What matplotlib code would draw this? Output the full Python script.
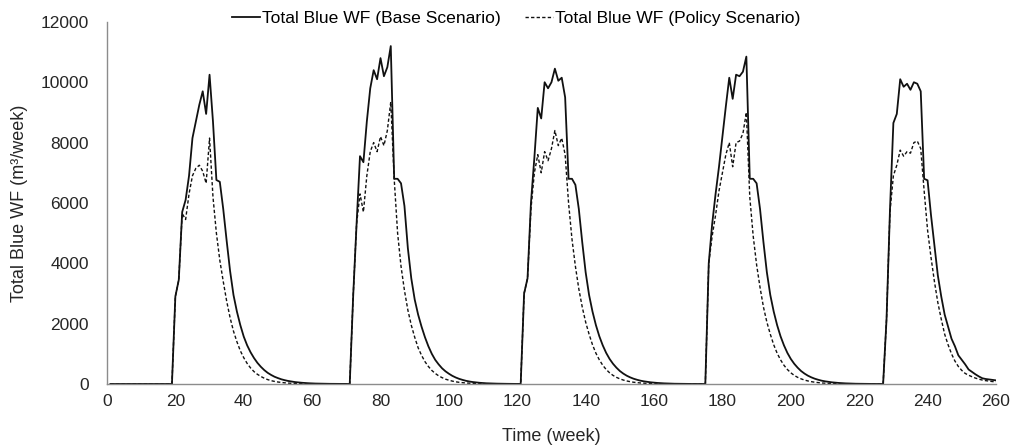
import numpy as np
import matplotlib
matplotlib.use("Agg")
import matplotlib.pyplot as plt

# Weekly time axis (weeks 1..260, five years of 52 weeks)
weeks = np.arange(1, 261)

# Total blue water footprint, base scenario (m3/week), one list per year
base_y1 = [0] * 19 + [
    2900, 3450, 5700, 6100, 6900, 8150, 8700, 9250, 9700, 8950, 10250, 8700,
    6760, 6700, 5800, 4750, 3750, 2950, 2400, 1950, 1570, 1280, 1050, 860,
    700, 570, 460, 370, 300, 240, 195, 155, 125]
base_y2 = [100, 80, 63, 50, 40, 31, 24, 18, 14, 11, 8, 6, 5, 4, 3, 2, 1, 1, 0,
           2900, 5300, 7550, 7350, 8700, 9800, 10400, 10100, 10800, 10200, 10500, 11200,
           6800, 6800, 6650, 5900, 4500, 3500, 2800, 2300, 1900, 1550, 1250, 1000,
           800, 650, 520, 420, 340, 270, 215, 170, 135]
base_y3 = [105, 82, 64, 50, 39, 30, 23, 18, 14, 11, 8, 6, 5, 3, 2, 1, 0,
           3000, 3500, 6000, 7500, 9150, 8800, 10000, 9800, 10000, 10450, 10050, 10150, 9500,
           6800, 6800, 6600, 5800, 4700, 3700, 2950, 2400, 1950, 1580, 1280, 1030,
           830, 670, 540, 430, 345, 275, 220, 175, 140, 110]
base_y4 = [88, 70, 55, 43, 34, 26, 20, 15, 11, 8, 6, 4, 3, 2, 1, 1, 0, 0, 0,
           4000, 5300, 6300, 7200, 8200, 9200, 10150, 9450, 10250, 10200, 10350, 10850,
           6800, 6800, 6650, 5800, 4700, 3700, 2950, 2400, 1950, 1580, 1280, 1030,
           830, 670, 540, 430, 345, 275, 220, 175, 140]
base_y5 = [110, 88, 70, 55, 43, 34, 26, 20, 15, 11, 8, 6, 4, 3, 2, 1, 1, 0, 0,
           2150, 5750, 8650, 8950, 10100, 9850, 9950, 9750, 10000, 9950, 9700,
           6800, 6750, 5600, 4600, 3600, 2900, 2300, 1900, 1500, 1250, 950, 800,
           650, 480, 400, 320, 250, 190, 165, 150, 135, 120]

# Total blue water footprint, policy scenario (m3/week)
policy_y1 = [0] * 19 + [
    2900, 3450, 5650, 5450, 6300, 6900, 7150, 7250, 7050, 6650, 8150, 6200,
    5000, 4100, 3400, 2750, 2200, 1750, 1400, 1100, 870, 680, 530, 410,
    320, 250, 190, 145, 110, 85, 65, 50, 38]
policy_y2 = [28, 20, 14, 10, 7, 5, 3, 2, 1, 0, 0, 0, 0, 0, 0, 0, 0, 0, 0,
             2900, 5300, 6300, 5700, 6900, 7700, 8000, 7700, 8200, 7900, 8400, 9350,
             6800, 5000, 3900, 3100, 2450, 1950, 1550, 1200, 950, 740, 580, 450,
             350, 270, 210, 160, 125, 95, 72, 55, 42]
policy_y3 = [32, 24, 18, 13, 9, 6, 4, 3, 2, 1, 0, 0, 0, 0, 0, 0, 0,
             3000, 3500, 5800, 7000, 7600, 7000, 7700, 7400, 7800, 8400, 7900, 8150, 7600,
             6000, 4800, 3900, 3150, 2550, 2050, 1650, 1300, 1020, 800, 620, 480,
             370, 285, 220, 170, 130, 100, 77, 58, 44, 33]
policy_y4 = [25, 18, 13, 9, 6, 4, 3, 2, 1, 0, 0, 0, 0, 0, 0, 0, 0, 0, 0,
             4000, 4900, 5600, 6400, 7000, 7600, 8000, 7200, 8000, 8050, 8300, 9000,
             6200, 4900, 3950, 3200, 2550, 2050, 1650, 1300, 1020, 800, 620, 480,
             370, 285, 220, 170, 130, 100, 77, 58, 44]
policy_y5 = [33, 25, 18, 13, 9, 6, 4, 3, 2, 1, 0, 0, 0, 0, 0, 0, 0, 0, 0,
             2150, 5700, 6900, 7250, 7750, 7550, 7700, 7650, 8000, 8050, 7800,
             6400, 5100, 4200, 3400, 2700, 2150, 1650, 1300, 1000, 760, 580, 450,
             350, 290, 240, 195, 160, 130, 110, 95, 80, 70]

base_wf = base_y1 + base_y2 + base_y3 + base_y4 + base_y5
policy_wf = policy_y1 + policy_y2 + policy_y3 + policy_y4 + policy_y5


def main():

    plt.rcParams["font.family"] = ["Liberation Sans", "DejaVu Sans"]
    plt.rcParams["font.size"] = 13

    fig = plt.figure(figsize=(10.14, 4.47), dpi=100)
    # Plot area: x 0..260 spans px 107..996, y 0..12000 spans px 384..22
    ax = fig.add_axes([0.1055, 0.141, 0.8767, 0.810])

    ax.plot(weeks, base_wf, color="#111111", linewidth=1.3,
            label="Total Blue WF (Base Scenario)")
    ax.plot(weeks, policy_wf, color="#111111", linewidth=1.0, linestyle=(0, (2.4, 1.6)),
            label="Total Blue WF (Policy Scenario)")

    # Axis limits, ticks and spines
    ax.set_xlim(0, 260)
    ax.set_ylim(0, 12000)
    ax.set_xticks(range(0, 261, 20))
    ax.set_yticks(range(0, 12001, 2000))
    ax.tick_params(axis="both", length=0, labelsize=12.5, colors="#262626")
    ax.tick_params(axis="y", pad=13)
    ax.tick_params(axis="x", pad=7)
    for side in ["top", "right"]:
        ax.spines[side].set_visible(False)
    for side in ["left", "bottom"]:
        ax.spines[side].set_color("#8c8c8c")
        ax.spines[side].set_linewidth(1.0)

    ax.set_xlabel("Time (week)", fontsize=13, color="#262626", labelpad=14)
    ax.set_ylabel("Total Blue WF (m³/week)", fontsize=13, color="#262626", labelpad=9)

    fig.legend(loc="upper center", bbox_to_anchor=(0.509, 1.012), ncol=2, frameon=False,
               handlelength=1.6, handletextpad=0.1, columnspacing=1.4, fontsize=12.6)

    fig.savefig("out.png", dpi=100)


if __name__ == "__main__":
    main()
